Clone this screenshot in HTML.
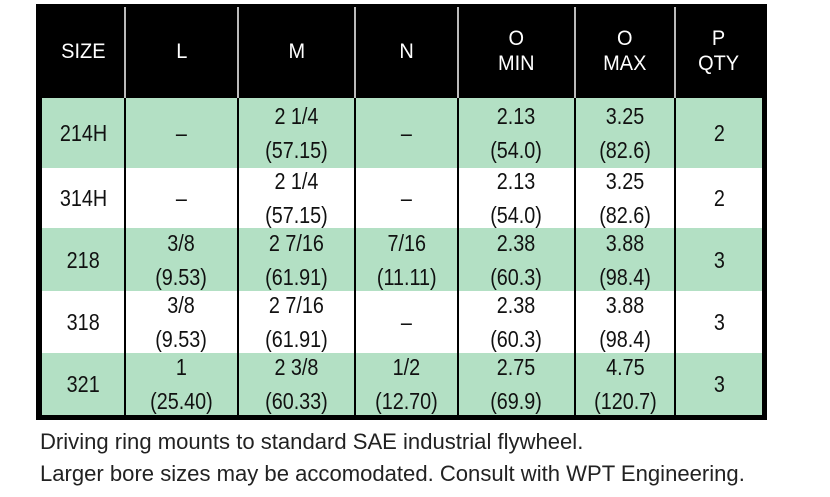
<!DOCTYPE html>
<html><head><style>
body{margin:0;width:830px;height:497px;background:#fff;position:relative;overflow:hidden;font-family:"Liberation Sans",sans-serif;}
.t{position:absolute;left:36px;top:4px;width:731px;height:416px;background:#000;}
.cell{position:absolute;display:flex;align-items:center;justify-content:center;text-align:center;color:#111;}
.cell span{display:inline-block;font-size:23px;line-height:34px;transform:scaleX(0.86);white-space:nowrap;}
.h span{color:#fff;font-size:21px;line-height:25px;transform:scaleX(0.95);}
.g{background:#b3e0c4;}
.w{background:#fff;}
.note{position:absolute;left:40px;font-size:22px;color:#222;white-space:nowrap;transform-origin:left;transform:scaleX(1.003);}
</style></head><body>
<div class="t"></div>
<div id="tb"></div>
<div class="note" style="top:429px">Driving ring mounts to standard SAE industrial flywheel.</div>
<div class="note" style="top:461px">Larger bore sizes may be accomodated. Consult with WPT Engineering.</div>
<script>
var xs=[42,125,238,355,458,575,675,762];
var ys=[98,168,228,291,353,415];
var hdr=["SIZE","L","M","N","O<br>MIN","O<br>MAX","P<br>QTY"];
var rows=[
["214H","–","2 1/4<br>(57.15)","–","2.13<br>(54.0)","3.25<br>(82.6)","2"],
["314H","–","2 1/4<br>(57.15)","–","2.13<br>(54.0)","3.25<br>(82.6)","2"],
["218","3/8<br>(9.53)","2 7/16<br>(61.91)","7/16<br>(11.11)","2.38<br>(60.3)","3.88<br>(98.4)","3"],
["318","3/8<br>(9.53)","2 7/16<br>(61.91)","–","2.38<br>(60.3)","3.88<br>(98.4)","3"],
["321","1<br>(25.40)","2 3/8<br>(60.33)","1/2<br>(12.70)","2.75<br>(69.9)","4.75<br>(120.7)","3"]];
var h="";
for(var c=0;c<7;c++){
 var l=xs[c]+(c?1:0),r=xs[c+1]-(c<6?1:0);
 h+='<div class="cell h" style="left:'+l+'px;top:8px;width:'+(r-l)+'px;height:86px"><span>'+hdr[c]+'</span></div>';
 if(c>0)h+='<div style="position:absolute;left:'+(xs[c]-1)+'px;top:7px;width:2px;height:91px;background:#bbb"></div>';
}
for(var i=0;i<5;i++){for(var c=0;c<7;c++){
 var l=xs[c]+(c?1:0),r=xs[c+1]-(c<6?1:0);
 h+='<div class="cell '+(i%2?'w':'g')+'" style="left:'+l+'px;top:'+ys[i]+'px;width:'+(r-l)+'px;height:'+(ys[i+1]-ys[i])+'px"><span>'+rows[i][c]+'</span></div>';
}}
document.getElementById('tb').innerHTML=h;
</script>
</body></html>
